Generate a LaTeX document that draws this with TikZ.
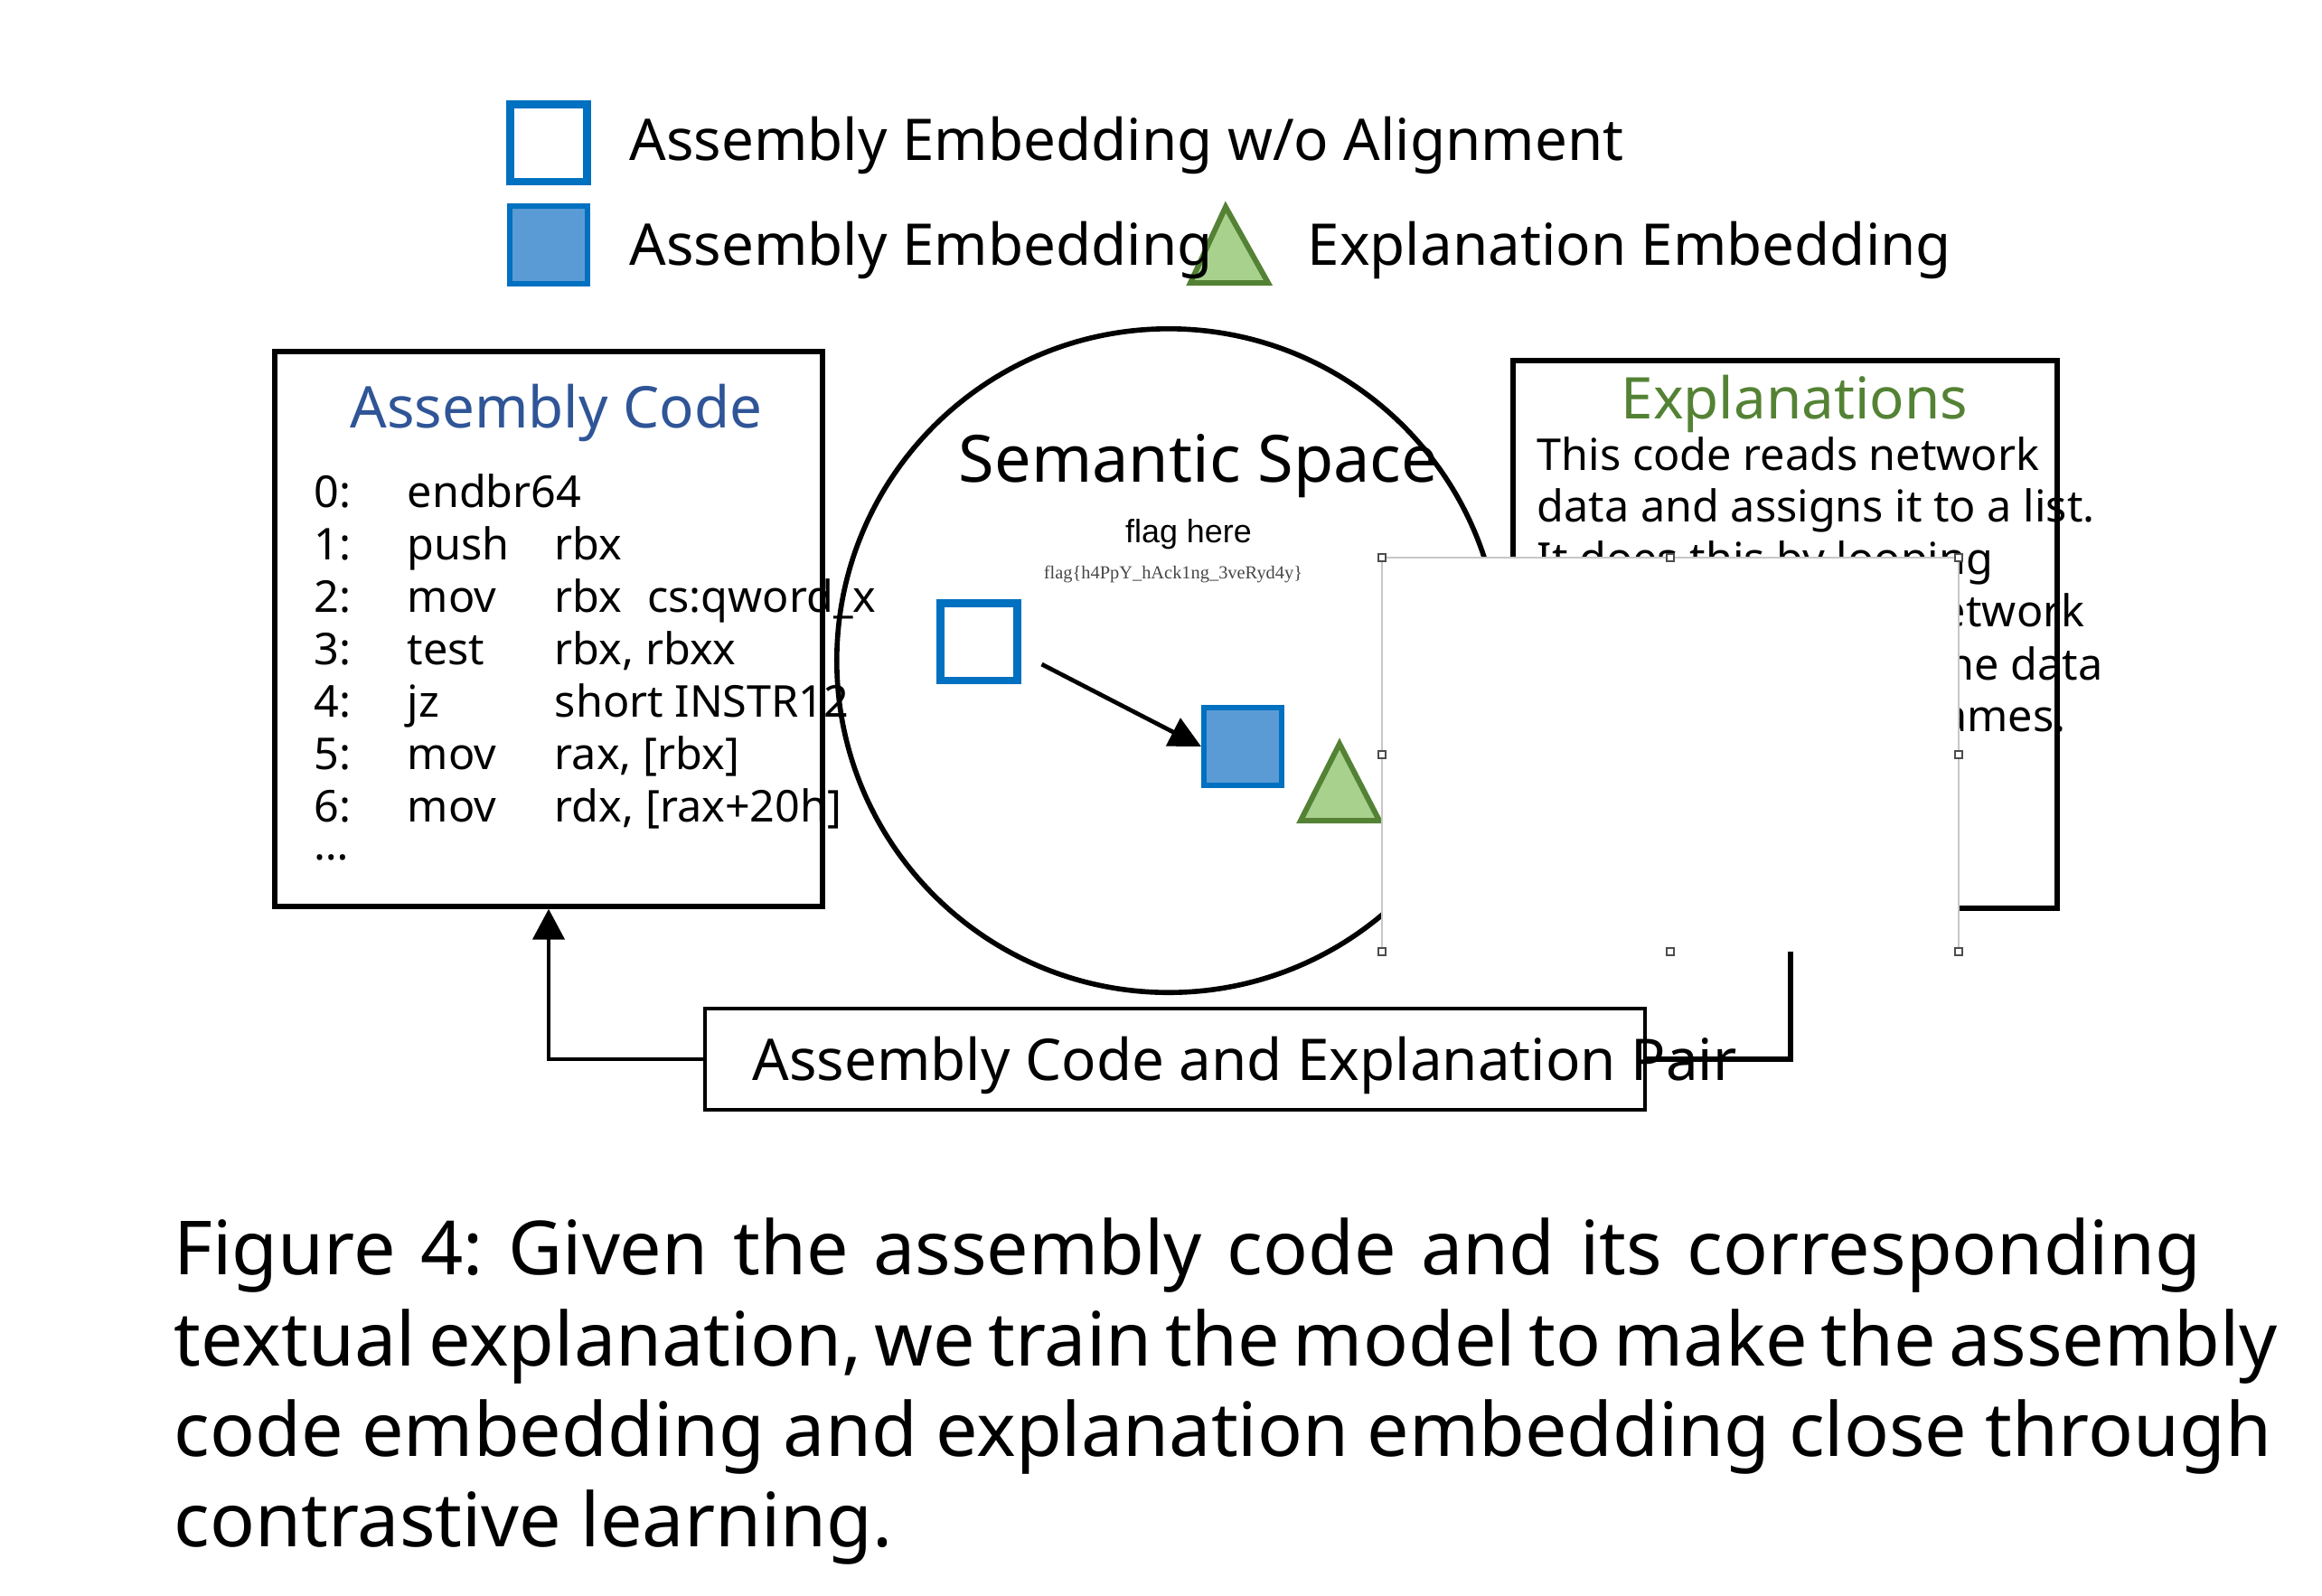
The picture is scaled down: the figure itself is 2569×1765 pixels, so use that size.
\documentclass[tikz,border=0pt]{standalone}
\usepackage{fontspec}
\setmainfont{Noto Sans}
\newfontfamily\arialfont{Liberation Sans}
\newfontfamily\timesfont{Liberation Serif}
\usetikzlibrary{arrows.meta, calc}

\definecolor{embblue}{HTML}{0070C0}
\definecolor{embfill}{HTML}{5B9BD5}
\definecolor{explfill}{HTML}{A9D18E}
\definecolor{explgreen}{HTML}{548235}
\definecolor{titleblue}{HTML}{2F5597}

% caption font, and one caption line spread to the width it has in the figure
\newcommand{\capfont}{\fontsize{23.5}{28}\selectfont\frenchspacing
  \spaceskip=0.26em plus 0.5em minus 0.15em\relax}
\newcommand{\capline}[2]{\makebox[#1][s]{#2}}

\begin{document}
\begin{tikzpicture}[x=0.01cm, y=-0.01cm,
  bigtext/.style={anchor=base west, inner sep=0pt, font=\fontsize{18.1}{20}\selectfont},
  codetext/.style={anchor=base west, inner sep=0pt, font=\fontsize{13.8}{16}\selectfont},
  captext/.style={anchor=base west, inner sep=0pt, font=\capfont},
  frame/.style={draw, rectangle, line width=1.7pt, inner sep=0pt},
  hollowsq/.style={draw=embblue, line width=2.3pt, fill=white, minimum size=0.85cm, inner sep=0pt},
  fillsq/.style={draw=embblue, line width=1.7pt, fill=embfill, minimum size=0.86cm, inner sep=0pt},
  expltri/.style={draw=explgreen, line width=1.7pt, fill=explfill},
  conn/.style={line width=1.3pt},
  handle/.style={draw=black!70, fill=white, line width=0.4pt}
]
\useasboundingbox (0,0) rectangle (2569,1765);

% Legend
\node[hollowsq] (legnoalign) at (607,158) {};
\node[fillsq] (legasm) at (607,271) {};
\draw[expltri] (1356,229) -- (1317,313) -- (1403,313) -- cycle;
\node[bigtext] (legtext1) at (696,177) {Assembly Embedding w/o Alignment};
\node[bigtext] (legtext2) at (696,293) {Assembly Embedding};
\node[bigtext] (legtext3) at (1446,293) {Explanation Embedding};

% Assembly code box
\node[frame, minimum width=6.06cm, minimum height=6.13cm] (asmbox) at (607,696) {};
\node[bigtext, text=titleblue] (asmtitle) at (387,473) {Assembly Code};
\foreach \lno/\mnem/\opnd [count=\i from 0] in {0/endbr64/{}, 1/push/rbx,
    2/mov/{rbx\hspace{0.28cm}cs:qword\_x}, 3/test/{rbx, rbxx}, 4/jz/{short INSTR12},
    5/mov/{rax, [rbx]}, 6/mov/{rdx, [rax+20h]}} {
  \node[codetext] (code\i) at (347,561+58*\i) {\makebox[1.03cm][l]{\lno:}\makebox[1.63cm][l]{\mnem}\opnd};
}
\node[codetext] (codedots) at (347,951) {…};

% Semantic space
\node[draw, circle, line width=1.6pt, minimum size=7.34cm, inner sep=0pt] (space) at (1293,731) {};
\node[anchor=base, inner sep=0pt, font=\fontsize{20.5}{24}\selectfont] (spacetitle) at (1326,533) {Semantic Space};
\node[anchor=base, inner sep=0pt, font=\arialfont\fontsize{10.2}{12}\selectfont] (flaghere) at (1315,600) {flag here};
\node[anchor=base, inner sep=0pt, text=black!72, font=\timesfont\fontsize{5.8}{7}\selectfont] (flagtext) at (1298,640) {flag\{h4PpY\_hAck1ng\_3veRyd4y\}};
\node[hollowsq] (asmold) at (1083,710) {};
\node[fillsq] (asmnew) at (1375,826) {};
\draw[expltri] (1482,823) -- (1439,908) -- (1526,908) -- cycle;
\draw[conn, line width=1.35pt, -{Triangle[length=0.35cm, width=0.34cm]}] ($(asmold.east)+(23,25)$) -- (asmnew.west);

% Explanation box
\node[frame, minimum width=6.01cm, minimum height=6.05cm] (explbox) at (1975,702) {};
\node[bigtext, text=explgreen] (expltitle) at (1793,463) {Explanations};
\node[codetext] (expl1) at (1700,520) {This code reads network};
\node[codetext] (expl2) at (1700,577) {data and assigns it to a list.};
\node[codetext] (expl3) at (1700,635) {It does this by looping};
\node[codetext, anchor=base east] (expl4) at (2307,693) {etwork};
\node[codetext, anchor=base east] (expl5) at (2327,752) {he data};
\node[codetext, anchor=base east] (expl6) at (2286,809) {ames.};

% Pair box and connectors
\node[frame, line width=1.15pt, minimum width=10.39cm, minimum height=1.12cm] (pairbox) at (1300,1172) {};
\draw[conn, -{Triangle[length=0.34cm, width=0.35cm]}] (pairbox.west) -| (asmbox.south);
\draw[conn, line width=1.6pt] ([xshift=0.06cm]explbox.south) |- (pairbox.east);
\node[bigtext] (pairtext) at (832,1195) {Assembly Code and Explanation Pair};

% Pasted blank picture with its handles
\fill[white] (1529,617) rectangle (2167,1053);
\draw[black!22, line width=0.6pt] (1529,1053) -- (1529,617) -- (2167,617) -- (2167,1053);
\foreach \hx/\hy in {1529/617, 1848/617, 2167/617, 1529/835, 2167/835, 1529/1053, 1848/1053, 2167/1053} {
  \draw[handle] (\hx-4,\hy-4) rectangle (\hx+4,\hy+4);
}

% Caption
\node[captext] (cap1) at (192,1410) {\capline{22.41cm}{Figure 4: Given the assembly code and its corresponding}};
\node[captext] (cap2) at (192,1511) {\capline{23.26cm}{textual explanation, we train the model to make the assembly}};
\node[captext] (cap3) at (192,1611) {\capline{23.19cm}{code embedding and explanation embedding close through}};
\node[captext] (cap4) at (192,1711) {contrastive learning.};

\end{tikzpicture}
\end{document}
